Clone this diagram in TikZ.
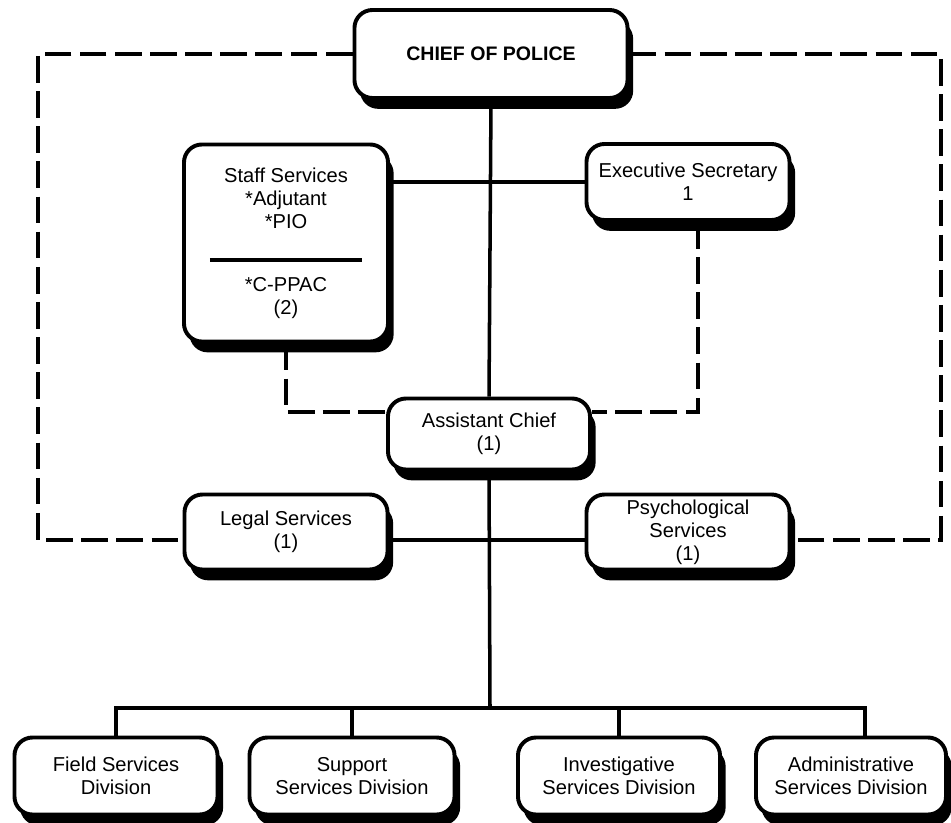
\documentclass[tikz,border=0pt]{standalone}
\usepackage{fontspec}
\setmainfont{Liberation Sans}
\usetikzlibrary{shadows,calc}
\begin{document}
\begin{tikzpicture}[x=0.025cm,y=-0.025cm,
    box/.style={draw,line width=2.8pt,rounded corners=0.45cm,fill=white,align=center,
      inner sep=0pt,font=\fontsize{14.3}{16.4}\selectfont,
      drop shadow={shadow xshift=0.14cm,shadow yshift=-0.27cm,opacity=1,fill=black}},
    link/.style={line width=2.5pt},
    dashlink/.style={line width=2.5pt,dash pattern=on 19pt off 6pt}]
  \useasboundingbox (0,0) rectangle (951,822);
  \node[box,minimum width=6.825cm,minimum height=2.2cm,font=\fontsize{13.9}{16}\selectfont\bfseries] (chief) at (491,54) {CHIEF OF POLICE};
  \node[box,minimum width=5.1cm,minimum height=4.925cm] (staff) at (286,243) {Staff Services\\*Adjutant\\*PIO\\[7.5pt]\rule{3.8cm}{2.4pt}\\[4.5pt]*C-PPAC\\(2)};
  \node[box,minimum width=5.075cm,minimum height=1.9cm] (exec) at (688,182) {Executive Secretary\\1};
  \node[box,minimum width=5.05cm,minimum height=1.775cm] (asst) at (489,434) {Assistant Chief\\(1)};
  \node[box,minimum width=5.075cm,minimum height=1.875cm] (legal) at (286,532) {Legal Services\\(1)};
  \node[box,minimum width=5.075cm,minimum height=1.875cm] (psych) at (688,532) {Psychological\\Services\\(1)};
  \node[box,minimum width=5.075cm,minimum height=1.925cm] (field) at (116,776) {Field Services\\Division};
  \node[box,minimum width=5.125cm,minimum height=1.925cm] (support) at (352,776) {Support\\Services Division};
  \node[box,minimum width=5.05cm,minimum height=1.925cm] (invest) at (619,776) {Investigative\\Services Division};
  \node[box,minimum width=4.75cm,minimum height=1.925cm] (admin) at (851,776) {Administrative\\Services Division};
  \coordinate (lft) at (38,540); \coordinate (rgt) at (941,540); \coordinate (bus) at (490,708);
  \draw[dashlink] (chief.west) -| (lft) -- (legal.west |- lft);
  \draw[dashlink] (chief.east) -| (rgt) -- (psych.east |- rgt);
  \draw[link] (chief.south) -- (asst.north);
  \draw[link] (staff.east |- exec.west) -- (exec.west);
  \draw[dashlink] (staff.south) |- ([yshift=0.55cm]asst.west);
  \draw[dashlink] ($(exec.south)+(10,0)$) |- ([yshift=0.55cm]asst.east);
  \draw[link] (legal.east |- lft) -- (psych.west |- lft);
  \draw[link] (asst.south) -- (bus);
  \draw[link] (field.north) |- (bus) -| ($(admin.north)+(14,0)$);
  \draw[link] (support.north) -- (support.north |- bus);
  \draw[link] (invest.north) -- (invest.north |- bus);
\end{tikzpicture}
\end{document}
